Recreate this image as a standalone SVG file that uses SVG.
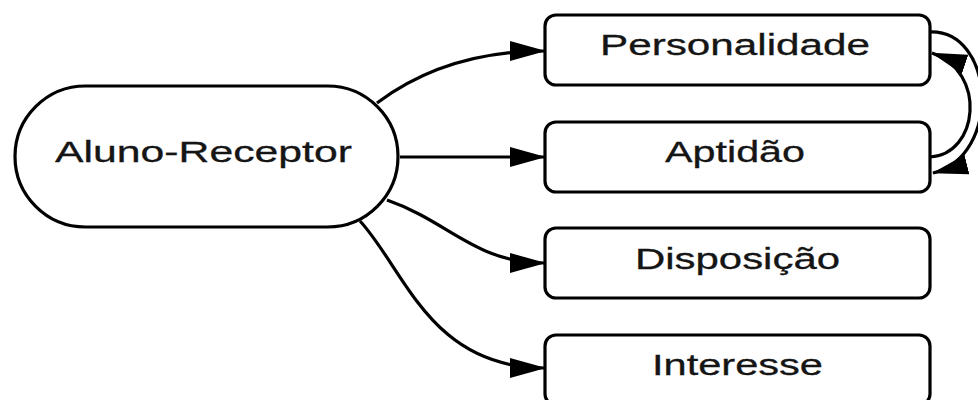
<svg xmlns="http://www.w3.org/2000/svg" width="978" height="400" viewBox="0 0 978 400">
  <defs>
    <marker id="arrow" markerUnits="userSpaceOnUse" markerWidth="36" markerHeight="20" viewBox="0 0 36 20" refX="35" refY="10" orient="auto">
      <path d="M0,0 L36,10 L0,20 z" fill="#000"/>
    </marker>
    <style>
      .node { fill: #fff; stroke: #000; stroke-width: 3.2; }
      .label { font-family: "Liberation Sans", Arial, sans-serif; font-size: 29px; fill: #151515; stroke: #151515; stroke-width: 0.3; text-anchor: middle; }
      .edge { fill: none; stroke: #000; stroke-width: 3.2; marker-end: url(#arrow); }
    </style>
  </defs>
  <rect width="978" height="400" fill="#fff"/>

  <g id="connectors">
    <path class="edge" d="M377,103 C425,67 480,51 545,51"/>
    <path class="edge" d="M400,157 L545,157"/>
    <path class="edge" d="M387,200 C450,222 475,263 545,263"/>
    <path class="edge" d="M360,221 C405,270 430,368 545,368"/>
    <!-- outer loop: Personalidade to Aptidão -->
    <path class="edge" d="M930,32 C995,30 1002,156 933,173"/>
    <!-- inner loop: Aptidão to Personalidade -->
    <path class="edge" d="M930,157 C978,155 988,72 932,53"/>
  </g>

  <g id="aluno-receptor">
    <rect class="node" x="15" y="86" width="383" height="141" rx="70.5" ry="70.5"/>
    <text class="label" x="203.5" y="162" textLength="297" lengthAdjust="spacingAndGlyphs">Aluno-Receptor</text>
  </g>
  <g id="personalidade">
    <rect class="node" x="545" y="15" width="385" height="70" rx="11"/>
    <text class="label" x="735" y="55" textLength="270" lengthAdjust="spacingAndGlyphs">Personalidade</text>
  </g>
  <g id="aptidao">
    <rect class="node" x="545" y="122" width="385" height="70" rx="11"/>
    <text class="label" x="735" y="162" textLength="140" lengthAdjust="spacingAndGlyphs">Aptidão</text>
  </g>
  <g id="disposicao">
    <rect class="node" x="545" y="228" width="385" height="70" rx="11"/>
    <text class="label" x="737.5" y="269" textLength="205" lengthAdjust="spacingAndGlyphs">Disposição</text>
  </g>
  <g id="interesse">
    <rect class="node" x="545" y="335" width="385" height="70" rx="11"/>
    <text class="label" x="737.5" y="375" textLength="171" lengthAdjust="spacingAndGlyphs">Interesse</text>
  </g>
</svg>
